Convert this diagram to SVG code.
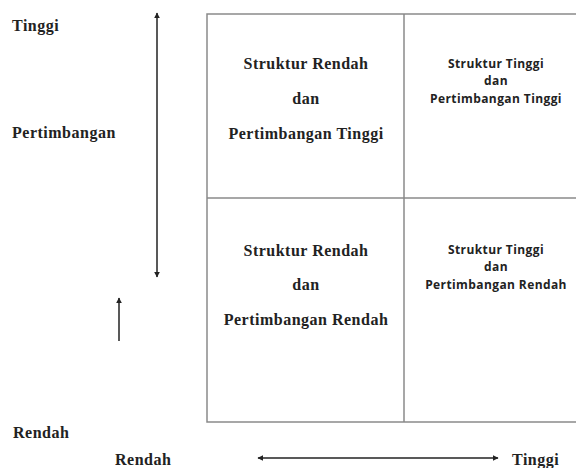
<svg xmlns="http://www.w3.org/2000/svg" width="576" height="468" viewBox="0 0 576 468">
<style>
.ax{font-family:"Liberation Serif","Times New Roman",serif;font-weight:bold;font-size:16px;letter-spacing:0.5px;fill:#222}
.q{font-family:"Liberation Serif","Times New Roman",serif;font-weight:bold;font-size:16px;letter-spacing:0.5px;fill:#222;text-anchor:middle}
.qs{font-family:"Open Sans","Liberation Sans",sans-serif;font-weight:bold;font-size:12px;letter-spacing:0.4px;fill:#222;text-anchor:middle}
.grid{stroke:#8a8a8a;stroke-width:1.5;fill:none}
.arr{stroke:#222;stroke-width:1.5;fill:none}
</style>
<defs>
<marker id="ah" viewBox="0 0 10 10" refX="9" refY="5" markerWidth="6" markerHeight="6" orient="auto-start-reverse" markerUnits="userSpaceOnUse">
<path d="M0,0 L10,5 L0,10 z" fill="#222"/>
</marker>
</defs>
<g id="grid">
<path class="grid" d="M580,14 H207 V422 H580 M404,14 V422 M207,198 H580"/>
</g>
<g id="q1">
<text class="q" x="306" y="69">Struktur Rendah</text>
<text class="q" x="306" y="104">dan</text>
<text class="q" x="306" y="139">Pertimbangan Tinggi</text>
</g>
<g id="q2">
<text class="qs" x="496" y="68">Struktur Tinggi</text>
<text class="qs" x="496" y="85">dan</text>
<text class="qs" x="496" y="103">Pertimbangan Tinggi</text>
</g>
<g id="q3">
<text class="q" x="306" y="256">Struktur Rendah</text>
<text class="q" x="306" y="290">dan</text>
<text class="q" x="306" y="325">Pertimbangan Rendah</text>
</g>
<g id="q4">
<text class="qs" x="496" y="254">Struktur Tinggi</text>
<text class="qs" x="496" y="271">dan</text>
<text class="qs" x="496" y="289">Pertimbangan Rendah</text>
</g>
<g id="labels">
<text class="ax" x="12" y="31">Tinggi</text>
<text class="ax" x="12" y="138">Pertimbangan</text>
<text class="ax" x="13" y="438">Rendah</text>
<text class="ax" x="115" y="465">Rendah</text>
<text class="ax" x="512" y="465">Tinggi</text>
</g>
<g id="connectors">
<line class="arr" x1="157" y1="13" x2="157" y2="277" marker-start="url(#ah)" marker-end="url(#ah)"/>
<line class="arr" x1="119" y1="341" x2="119" y2="298" marker-end="url(#ah)"/>
<line class="arr" x1="258" y1="458" x2="498" y2="458" marker-start="url(#ah)" marker-end="url(#ah)"/>
</g>
</svg>
